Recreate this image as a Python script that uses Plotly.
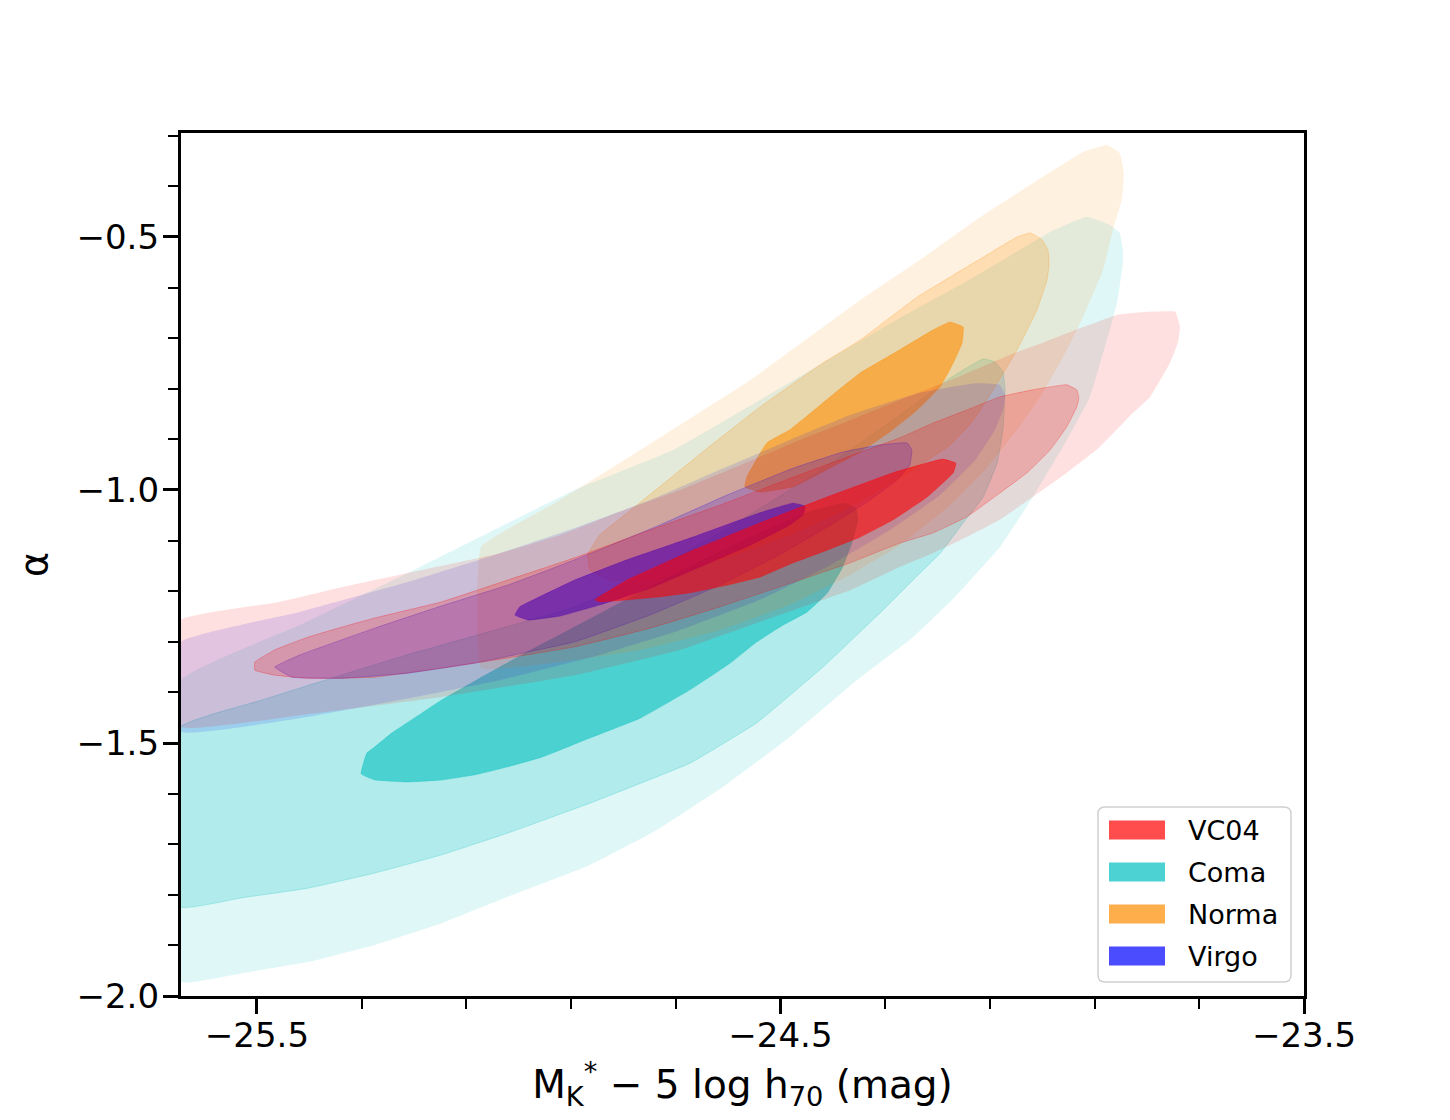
import plotly.graph_objects as go

# ---------------- data: confidence-contour boundaries ----------------
# x = M*_K - 5 log h70 (mag), y = alpha ; each list traces one filled contour level

coma_outer_x = [-25.645, -25.418, -25.212, -24.893, -24.705, -24.539, -24.400, -24.272, -24.157, -24.081,
                -23.985, -23.915, -23.871, -23.852, -23.846, -23.846, -23.856, -23.871, -23.909, -23.953,
                -24.018, -24.081, -24.172, -24.247, -24.354, -24.482, -24.610, -24.736, -24.864, -25.021,
                -25.147, -25.275, -25.403, -25.529, -25.645]
coma_outer_y = [-1.376, -1.267, -1.164, -1.000, -0.921, -0.822, -0.737, -0.660, -0.595, -0.549,
                -0.490, -0.460, -0.476, -0.492, -0.526, -0.551, -0.625, -0.684, -0.816, -0.901,
                -1.014, -1.113, -1.217, -1.291, -1.376, -1.488, -1.587, -1.672, -1.741, -1.804,
                -1.856, -1.899, -1.933, -1.955, -1.972]

coma_middle_x = [-25.645, -25.490, -25.227, -24.893, -24.749, -24.616, -24.482, -24.367, -24.253, -24.176,
                 -24.113, -24.090, -24.075, -24.071, -24.075, -24.086, -24.113, -24.151, -24.195, -24.243,
                 -24.300, -24.419, -24.545, -24.673, -24.800, -24.864, -25.021, -25.147, -25.275, -25.403,
                 -25.529, -25.645]
coma_middle_y = [-1.468, -1.415, -1.330, -1.231, -1.162, -1.085, -1.000, -0.921, -0.838, -0.779,
                 -0.741, -0.747, -0.767, -0.802, -0.881, -0.946, -1.014, -1.065, -1.125, -1.174,
                 -1.233, -1.350, -1.460, -1.540, -1.593, -1.619, -1.678, -1.721, -1.757, -1.787,
                 -1.806, -1.824]

coma_inner_x = [-25.301, -25.290, -25.275, -25.242, -25.185, -25.147, -25.074, -24.994, -24.893, -24.768,
                -24.654, -24.539, -24.444, -24.377, -24.356, -24.352, -24.362, -24.381, -24.411, -24.449,
                -24.495, -24.545, -24.596, -24.673, -24.768, -24.864, -24.956, -25.021, -25.084, -25.147,
                -25.212, -25.275]
coma_inner_y = [-1.561, -1.520, -1.508, -1.480, -1.441, -1.415, -1.372, -1.326, -1.271, -1.202,
                -1.142, -1.085, -1.043, -1.026, -1.036, -1.059, -1.099, -1.152, -1.204, -1.241,
                -1.267, -1.300, -1.342, -1.395, -1.451, -1.490, -1.528, -1.547, -1.563, -1.573,
                -1.577, -1.573]

norma_outer_x = [-25.072, -24.921, -24.774, -24.558, -24.348, -24.239, -24.113, -23.985, -23.922, -23.876,
                 -23.852, -23.844, -23.848, -23.865, -23.884, -23.922, -23.960, -24.004, -24.048, -24.109,
                 -24.176, -24.272, -24.367, -24.482, -24.616, -24.768, -24.921, -25.072]
norma_outer_y = [-1.113, -1.020, -0.925, -0.783, -0.625, -0.549, -0.457, -0.372, -0.332, -0.318,
                 -0.334, -0.374, -0.427, -0.486, -0.565, -0.658, -0.737, -0.816, -0.881, -0.960,
                 -1.030, -1.109, -1.168, -1.227, -1.277, -1.316, -1.340, -1.352]

norma_middle_x = [-24.868, -24.845, -24.774, -24.644, -24.539, -24.419, -24.348, -24.239, -24.113, -24.048,
                  -24.023, -24.000, -23.989, -23.987, -23.991, -24.010, -24.048, -24.094, -24.132, -24.176,
                  -24.272, -24.381, -24.476, -24.602, -24.730, -24.826, -24.864]
norma_middle_y = [-1.128, -1.089, -1.030, -0.921, -0.836, -0.749, -0.704, -0.619, -0.540, -0.500,
                  -0.492, -0.506, -0.526, -0.555, -0.585, -0.644, -0.723, -0.802, -0.862, -0.911,
                  -0.976, -1.040, -1.085, -1.132, -1.174, -1.178, -1.158]

norma_inner_x = [-24.568, -24.564, -24.526, -24.482, -24.419, -24.348, -24.272, -24.209, -24.176, -24.151,
                 -24.153, -24.170, -24.195, -24.239, -24.291, -24.348, -24.411, -24.476, -24.539]
norma_inner_y = [-0.994, -0.974, -0.907, -0.881, -0.828, -0.769, -0.723, -0.684, -0.668, -0.678,
                 -0.709, -0.749, -0.796, -0.842, -0.885, -0.925, -0.960, -0.994, -1.004]

virgo_outer_x = [-25.645, -25.418, -25.212, -25.036, -24.893, -24.749, -24.616, -24.482, -24.367, -24.234,
                 -24.128, -24.081, -24.071, -24.075, -24.090, -24.128, -24.195, -24.291, -24.404, -24.539,
                 -24.692, -24.845, -25.036, -25.227, -25.418, -25.645]
virgo_outer_y = [-1.300, -1.241, -1.182, -1.125, -1.075, -1.020, -0.960, -0.901, -0.852, -0.808,
                 -0.789, -0.792, -0.812, -0.842, -0.881, -0.941, -1.010, -1.079, -1.148, -1.217,
                 -1.277, -1.326, -1.376, -1.415, -1.451, -1.478]

virgo_middle_x = [-25.466, -25.418, -25.275, -25.147, -25.021, -24.893, -24.730, -24.602, -24.476, -24.381,
                  -24.310, -24.258, -24.249, -24.253, -24.277, -24.329, -24.404, -24.502, -24.616, -24.749,
                  -24.893, -25.084, -25.212, -25.338, -25.433]
virgo_middle_y = [-1.350, -1.326, -1.273, -1.229, -1.188, -1.138, -1.069, -1.010, -0.957, -0.925,
                  -0.911, -0.907, -0.921, -0.951, -0.980, -1.020, -1.069, -1.128, -1.188, -1.247,
                  -1.300, -1.342, -1.362, -1.372, -1.370]

virgo_inner_x = [-25.007, -24.998, -24.956, -24.893, -24.793, -24.667, -24.539, -24.476, -24.453, -24.457,
                 -24.482, -24.558, -24.654, -24.749, -24.845, -24.921, -24.982]
virgo_inner_y = [-1.247, -1.231, -1.209, -1.178, -1.138, -1.093, -1.045, -1.026, -1.032, -1.049,
                 -1.069, -1.109, -1.152, -1.194, -1.227, -1.249, -1.257]

vc04_outer_x = [-25.645, -25.466, -25.338, -25.212, -25.036, -24.921, -24.807, -24.692, -24.577, -24.463,
                -24.367, -24.272, -24.176, -24.062, -23.999, -23.922, -23.857, -23.800, -23.746, -23.737,
                -23.741, -23.756, -23.794, -23.827, -23.890, -23.953, -24.018, -24.081, -24.144, -24.209,
                -24.272, -24.367, -24.502, -24.692, -24.893, -25.147, -25.418, -25.645]
vc04_outer_y = [-1.257, -1.223, -1.192, -1.164, -1.125, -1.089, -1.043, -1.000, -0.951, -0.901,
                -0.862, -0.822, -0.783, -0.733, -0.709, -0.678, -0.654, -0.648, -0.648, -0.678,
                -0.709, -0.749, -0.816, -0.848, -0.915, -0.966, -1.014, -1.059, -1.093, -1.125,
                -1.152, -1.198, -1.247, -1.316, -1.366, -1.409, -1.445, -1.468]

vc04_middle_x = [-25.504, -25.466, -25.403, -25.338, -25.275, -25.147, -25.021, -24.893, -24.749, -24.616,
                 -24.463, -24.367, -24.272, -24.209, -24.144, -24.081, -24.018, -23.953, -23.934, -23.930,
                 -23.934, -23.953, -23.985, -24.029, -24.081, -24.144, -24.209, -24.272, -24.367, -24.463,
                 -24.616, -24.749, -24.893, -25.021, -25.147, -25.275, -25.338, -25.403, -25.466, -25.504]
vc04_middle_y = [-1.340, -1.316, -1.291, -1.271, -1.253, -1.221, -1.178, -1.134, -1.079, -1.030,
                 -0.970, -0.933, -0.897, -0.868, -0.842, -0.816, -0.802, -0.792, -0.802, -0.818,
                 -0.836, -0.875, -0.921, -0.966, -1.006, -1.053, -1.085, -1.105, -1.144, -1.178,
                 -1.231, -1.273, -1.310, -1.332, -1.352, -1.370, -1.372, -1.372, -1.366, -1.356]

vc04_inner_x = [-24.854, -24.793, -24.667, -24.539, -24.411, -24.285, -24.190, -24.165, -24.170, -24.220,
                -24.285, -24.348, -24.411, -24.476, -24.539, -24.602, -24.667, -24.730, -24.793, -24.845]
vc04_inner_y = [-1.217, -1.178, -1.119, -1.065, -1.014, -0.966, -0.939, -0.947, -0.966, -1.014,
                -1.059, -1.093, -1.119, -1.144, -1.172, -1.188, -1.202, -1.211, -1.217, -1.221]

legend_labels = ["VC04", "Coma", "Norma", "Virgo"]
x_tick_vals = [-25.5, -24.5, -23.5]
x_tick_text = ["\u221225.5", "\u221224.5", "\u221223.5"]
y_tick_vals = [-2.0, -1.5, -1.0, -0.5]
y_tick_text = ["\u22122.0", "\u22121.5", "\u22121.0", "\u22120.5"]

# ---------------- styling ----------------
BASE = {"VC04": (255, 0, 0), "Coma": (0, 191, 191), "Norma": (255, 140, 0), "Virgo": (0, 0, 255)}
# target (band) opacities: outer 0.12, middle 0.30, inner 0.70 -> compounding layer opacities
A_OUT = 0.12
A_MID = 1 - (1 - 0.30) / (1 - A_OUT)
A_IN = 1 - (1 - 0.70) / (1 - 0.30)

contours = {
    "Coma": [(coma_outer_x, coma_outer_y), (coma_middle_x, coma_middle_y), (coma_inner_x, coma_inner_y)],
    "Norma": [(norma_outer_x, norma_outer_y), (norma_middle_x, norma_middle_y), (norma_inner_x, norma_inner_y)],
    "Virgo": [(virgo_outer_x, virgo_outer_y), (virgo_middle_x, virgo_middle_y), (virgo_inner_x, virgo_inner_y)],
    "VC04": [(vc04_outer_x, vc04_outer_y), (vc04_middle_x, vc04_middle_y), (vc04_inner_x, vc04_inner_y)],
}
draw_order = ["Coma", "Norma", "Virgo", "VC04"]


def rgba(c, a):
    return "rgba(%d,%d,%d,%.3f)" % (c[0], c[1], c[2], a)


fig = go.Figure()
for name in draw_order:
    c = BASE[name]
    for (xs, ys), a, lw, la in zip(contours[name], [A_OUT, A_MID, A_IN], [0.1, 1, 1], [0, 0.25, 0.35]):
        fig.add_trace(go.Scatter(
            x=list(xs) + [xs[0]], y=list(ys) + [ys[0]], mode="lines", fill="toself",
            fillcolor=rgba(c, a),
            line=dict(color=rgba(c, la), width=lw, shape="spline", smoothing=0.3),
            hoverinfo="skip", showlegend=False, name=name))

# ---------------- layout ----------------
# the page places the figure 8 px from the window corner
W, H = 1450, 1120
OFF = 8
REF_L, REF_T, REF_R, REF_B = 181, 133, 1304, 996      # plot frame in the window
L, T = REF_L - OFF, REF_T - OFF
R, B = W - (REF_R - OFF), H - (REF_B - OFF)
PW, PH = REF_R - REF_L, REF_B - REF_T


def px_x(p):
    return (p - REF_L) / PW


def px_y(p):
    return (REF_B - p) / PH


font = "DejaVu Sans, Liberation Sans, sans-serif"
fig.update_layout(
    width=W, height=H,
    margin=dict(l=L, r=R, t=T, b=B, autoexpand=False),
    paper_bgcolor="white", plot_bgcolor="white",
    font=dict(family=font, color="black", size=34),
    showlegend=False,
    xaxis=dict(range=[-25.645, -23.5], tickmode="array", tickvals=x_tick_vals, ticktext=x_tick_text,
               ticks="outside", ticklen=15, tickwidth=2.5, tickcolor="black", ticklabelstandoff=-8,
               minor=dict(dtick=0.2, tick0=-25.5, ticks="outside", ticklen=10, tickwidth=2, tickcolor="black"),
               showline=True, linewidth=3.3, linecolor="black", mirror=True,
               showgrid=False, zeroline=False, tickfont=dict(size=34, family=font),
               title=dict(text="M<sub>K</sub><sup>*</sup> \u2212 5 log h<sub>70</sub> (mag)",
                          font=dict(size=39, family=font), standoff=17)),
    yaxis=dict(range=[-2.0, -0.2945], tickmode="array", tickvals=y_tick_vals, ticktext=y_tick_text,
               ticks="outside", ticklen=15, tickwidth=2.5, tickcolor="black", ticklabelstandoff=-3,
               minor=dict(dtick=0.1, tick0=-2.0, ticks="outside", ticklen=10, tickwidth=2, tickcolor="black"),
               showline=True, linewidth=3.3, linecolor="black", mirror=True,
               showgrid=False, zeroline=False, tickfont=dict(size=34, family=font),
               title=dict(text="\u03b1", font=dict(size=38, family=font), standoff=18)),
)

# legend drawn as a box with colour patches and real text labels
bx0, bx1, by0, by1 = px_x(1098), px_x(1291), px_y(982), px_y(807)
rx, ry = 7 / PW, 7 / PH
path = (f"M {bx0+rx},{by0} L {bx1-rx},{by0} Q {bx1},{by0} {bx1},{by0+ry} "
        f"L {bx1},{by1-ry} Q {bx1},{by1} {bx1-rx},{by1} L {bx0+rx},{by1} Q {bx0},{by1} {bx0},{by1-ry} "
        f"L {bx0},{by0+ry} Q {bx0},{by0} {bx0+rx},{by0} Z")
fig.add_shape(type="path", path=path, xref="paper", yref="paper",
              fillcolor="rgba(255,255,255,0.8)", line=dict(color="#d0d0d0", width=1.5), layer="above")
row_centers = [830, 872, 914, 956]
for lab, yc in zip(legend_labels, row_centers):
    fig.add_shape(type="rect", xref="paper", yref="paper",
                  x0=px_x(1109), x1=px_x(1165), y0=px_y(yc + 9.5), y1=px_y(yc - 9.5),
                  fillcolor=rgba(BASE[lab], 0.7), line=dict(width=0), layer="above")
    fig.add_annotation(x=px_x(1186), y=px_y(yc), xref="paper", yref="paper", text=lab,
                       showarrow=False, xanchor="left", yanchor="middle",
                       font=dict(size=27, family=font, color="black"))

fig.write_html("out.html")
